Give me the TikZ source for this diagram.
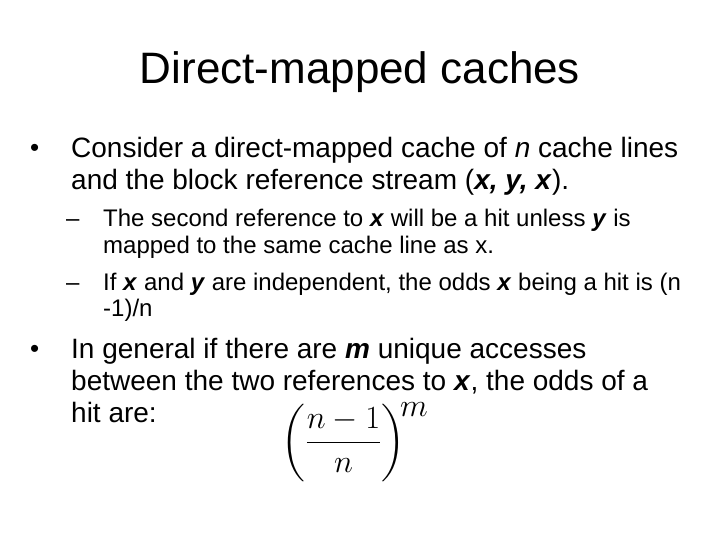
\documentclass[tikz,border=0pt]{standalone}
\usepackage{fontspec}
\usepackage{amsmath}
\setmainfont{Liberation Sans}
\begin{document}
\begin{tikzpicture}[x=1pt,y=-1pt,
  t/.style={anchor=base west,inner sep=0pt},
  big/.style={t,font=\fontsize{28}{32}\selectfont},
  small/.style={t,font=\fontsize{24}{28}\selectfont},
  bul/.style={t,font=\fontsize{26}{30}\selectfont}]
\useasboundingbox[fill=white] (0,0) rectangle (720,540);
\node[anchor=base,inner sep=0pt,font=\fontsize{44}{48}\selectfont] (title) at (360,84) {Direct-mapped caches};
\node[bul] (b1) at (30,157) {•};
\node[big] (l1) at (71,158) {Consider a direct-mapped cache of \textit{n} cache lines};
\node[big] (l2) at (71,190) {and the block reference stream (\textbf{\textit{x, y, x}}).};
\node[small] (d1) at (66,226) {–};
\node[small] (s1) at (103,226) {The second reference to \textbf{\textit{x}} will be a hit unless \textbf{\textit{y}} is};
\node[small] (s1b) at (103,253) {mapped to the same cache line as x.};
\node[small] (d2) at (66,290) {–};
\node[small] (s2) at (103,290) {If \textbf{\textit{x}} and \textbf{\textit{y}} are independent, the odds \textbf{\textit{x}} being a hit is (n};
\node[small] (s2b) at (103,316) {-1)/n};
\node[bul] (b2) at (30,357) {•};
\node[big] (m1) at (71,358) {In general if there are \textbf{\textit{m}} unique accesses};
\node[big] (m2) at (71,390) {between the two references to \textbf{\textit{x}}, the odds of a};
\node[big] (m3) at (71,422) {hit are:};
\node[anchor=center,inner sep=0pt,scale=1.3,font=\fontsize{38}{44}\selectfont] (f) at (355,442) {$\left(\dfrac{n-1}{n}\right)^{\!m}$};
\end{tikzpicture}
\end{document}
